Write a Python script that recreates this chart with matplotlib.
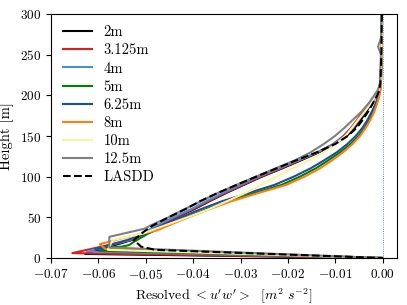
import matplotlib
matplotlib.use("Agg")
import matplotlib.pyplot as plt

plt.rcParams['font.family'] = 'serif'
plt.rcParams['font.serif'] = ['cmr10']
plt.rcParams['mathtext.fontset'] = 'cm'
plt.rcParams['axes.formatter.use_mathtext'] = True
plt.rcParams['font.size'] = 9.5

# resolved <u'w'> profiles [m2 s-2] vs height [m]
z_2m = [300, 250, 215, 205, 200, 190, 180, 170, 160, 150, 140, 130, 120, 110, 100, 90, 80, 70, 60, 50, 40, 30, 22, 5, 0]
uw_2m = [-0.0002, -0.0003, -0.0005, -0.0009, -0.0013, -0.0024, -0.0035, -0.0046, -0.0059, -0.0076, -0.0101, -0.0134, -0.0173, -0.0213, -0.0255, -0.0293, -0.0330, -0.0365, -0.0398, -0.0435, -0.0470, -0.0503, -0.0530, -0.0628, 0.0]

z_3125m = [300, 250, 215, 205, 200, 190, 180, 170, 160, 150, 140, 130, 120, 110, 100, 90, 80, 70, 60, 50, 40, 30, 22, 6, 0]
uw_3125m = [-0.0002, -0.0003, -0.0005, -0.0010, -0.0016, -0.0029, -0.0042, -0.0054, -0.0067, -0.0083, -0.0105, -0.0137, -0.0176, -0.0215, -0.0257, -0.0295, -0.0332, -0.0367, -0.0400, -0.0437, -0.0473, -0.0505, -0.0532, -0.0655, 0.0]

z_4m = [300, 250, 215, 205, 200, 190, 180, 170, 160, 150, 140, 130, 120, 110, 100, 90, 80, 70, 60, 50, 40, 30, 22, 8, 0]
uw_4m = [-0.0002, -0.0003, -0.0005, -0.0009, -0.0014, -0.0026, -0.0038, -0.0050, -0.0063, -0.0080, -0.0104, -0.0138, -0.0178, -0.0220, -0.0262, -0.0300, -0.0337, -0.0372, -0.0405, -0.0442, -0.0477, -0.0508, -0.0535, -0.0624, 0.0]

z_5m = [300, 250, 215, 205, 200, 190, 180, 170, 160, 150, 140, 130, 120, 110, 100, 90, 80, 70, 60, 50, 40, 30, 20, 16, 14, 12, 9, 0]
uw_5m = [-0.0002, -0.0002, -0.0004, -0.0006, -0.0008, -0.0013, -0.0020, -0.0028, -0.0038, -0.0051, -0.0068, -0.0090, -0.0115, -0.0142, -0.0175, -0.0213, -0.0270, -0.0326, -0.0372, -0.0416, -0.0457, -0.0495, -0.0525, -0.0535, -0.0550, -0.0600, -0.0600, 0.0]

z_625m = [300, 250, 215, 205, 200, 190, 180, 170, 160, 150, 140, 130, 120, 110, 100, 90, 80, 70, 60, 50, 40, 30, 22, 11, 0]
uw_625m = [-0.0002, -0.0002, -0.0004, -0.0006, -0.0009, -0.0015, -0.0023, -0.0032, -0.0043, -0.0057, -0.0075, -0.0097, -0.0124, -0.0153, -0.0188, -0.0228, -0.0283, -0.0338, -0.0384, -0.0426, -0.0465, -0.0500, -0.0540, -0.0607, 0.0]

z_8m = [300, 250, 210, 200, 190, 180, 170, 160, 150, 140, 130, 120, 110, 100, 90, 80, 70, 60, 50, 40, 34, 25, 17, 11, 0]
uw_8m = [-0.0002, -0.0002, -0.0004, -0.0007, -0.0012, -0.0018, -0.0026, -0.0036, -0.0048, -0.0064, -0.0084, -0.0107, -0.0133, -0.0165, -0.0203, -0.0262, -0.0318, -0.0366, -0.0410, -0.0452, -0.0476, -0.0545, -0.0597, -0.0585, 0.0]

z_10m = [300, 250, 215, 205, 200, 190, 180, 170, 160, 150, 145, 135, 125, 110, 100, 84, 70, 60, 50, 40, 30, 22, 10, 0]
uw_10m = [-0.0002, -0.0003, -0.0005, -0.0009, -0.0014, -0.0025, -0.0038, -0.0052, -0.0065, -0.0079, -0.0089, -0.0111, -0.0139, -0.0192, -0.0224, -0.0275, -0.0328, -0.0367, -0.0412, -0.0460, -0.0507, -0.0570, -0.0580, 0.0]

z_125m = [300, 270, 260, 250, 215, 207, 200, 190, 180, 170, 160, 150, 140, 130, 120, 110, 100, 90, 80, 70, 60, 50, 40, 36, 26, 13, 0]
uw_125m = [-0.0002, -0.0004, -0.0010, -0.0004, -0.0006, -0.0010, -0.0018, -0.0030, -0.0045, -0.0063, -0.0081, -0.0101, -0.0125, -0.0152, -0.0186, -0.0227, -0.0268, -0.0308, -0.0348, -0.0383, -0.0418, -0.0452, -0.0490, -0.0503, -0.0577, -0.0577, 0.0]

z_lasdd = [300, 250, 215, 205, 200, 190, 180, 170, 160, 150, 140, 130, 120, 110, 100, 90, 80, 70, 60, 50, 40, 32, 22, 14, 10, 0]
uw_lasdd = [-0.0002, -0.0003, -0.0005, -0.0008, -0.0012, -0.0021, -0.0031, -0.0042, -0.0055, -0.0074, -0.0101, -0.0139, -0.0183, -0.0225, -0.0267, -0.0308, -0.0348, -0.0385, -0.0417, -0.0452, -0.0485, -0.0505, -0.0525, -0.0510, -0.0480, 0.0]

labels = ['2m', '3.125m', '4m', '5m', '6.25m', '8m', '10m', '12.5m']
colors = ['black', '#e41a1c', '#4a8fd4', 'green', '#1c4f9c', '#ff7f0e', '#fdf2a0', 'gray']
profiles = [(z_2m, uw_2m), (z_3125m, uw_3125m), (z_4m, uw_4m), (z_5m, uw_5m),
            (z_625m, uw_625m), (z_8m, uw_8m), (z_10m, uw_10m), (z_125m, uw_125m)]

fig = plt.figure(figsize=(4.07, 3.05), dpi=100)
ax = fig.add_axes([51/407, 1 - 258/305, (397 - 51)/407, (258 - 14)/305])

ax.axvline(0, color='#1f77b4', ls=':', lw=0.6)
for (z, uw), lab, col in zip(profiles, labels, colors):
    ax.plot(uw, z, color=col, lw=1.5, label=lab)
ax.plot(uw_lasdd, z_lasdd, 'k--', lw=1.5, label='LASDD')

ax.set_xlim(-0.07, 0.003)
ax.set_ylim(0, 300)
ax.set_xticks([-0.07, -0.06, -0.05, -0.04, -0.03, -0.02, -0.01, 0.0])
ax.set_xticklabels(['$-0.07$', '$-0.06$', '$-0.05$', '$-0.04$', '$-0.03$', '$-0.02$', '$-0.01$', '$0.00$'])
ax.set_yticks([0, 50, 100, 150, 200, 250, 300])
ax.set_xlabel(r"Resolved $< u'w' >$  $[m^2\ s^{-2}]$", fontsize=10)
ax.set_ylabel('Height [m]', fontsize=10.5)
ax.legend(loc='upper left', frameon=False, fontsize=10.5, handlelength=2,
          labelspacing=0.3, borderaxespad=0.4)

fig.savefig('out.png', dpi=100)
